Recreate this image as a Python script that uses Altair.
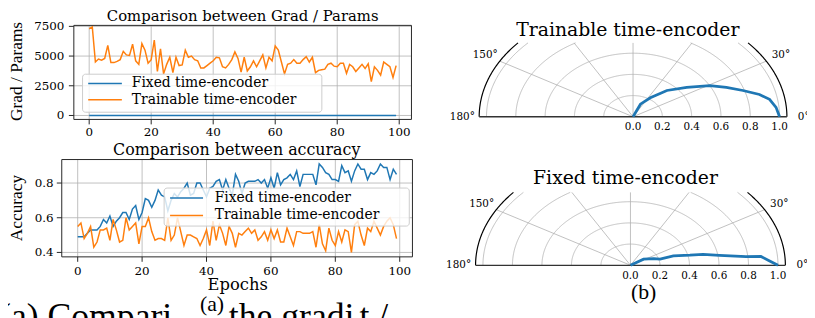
import math
import pandas as pd
import altair as alt

# ---------------- data ----------------
epochs = list(range(100))
series_names = ["Fixed time-encoder", "Trainable time-encoder"]
series_colors = ["#1f77b4", "#ff7f0e"]

grad_fixed = [0, 0, 0, 0, 0, 0, 0, 0, 0, 0, 0, 0, 0, 0, 0, 0, 0, 0, 0, 0,
              0, 0, 0, 0, 0, 0, 0, 0, 0, 0, 0, 0, 0, 0, 0, 0, 0, 0, 0, 0,
              0, 0, 0, 0, 0, 0, 0, 0, 0, 0, 0, 0, 0, 0, 0, 0, 0, 0, 0, 0,
              0, 0, 0, 0, 0, 0, 0, 0, 0, 0, 0, 0, 0, 0, 0, 0, 0, 0, 0, 0,
              0, 0, 0, 0, 0, 0, 0, 0, 0, 0, 0, 0, 0, 0, 0, 0, 0, 0, 0, 0]
grad_trainable = [7300, 7450, 4500, 4750, 4650, 4800, 5900, 4450, 4450, 4550,
                  4700, 5400, 5100, 5050, 6000, 4600, 4300, 6050, 5500, 4400,
                  4700, 6350, 3700, 5600, 3500, 4300, 4900, 3600, 4900, 4200,
                  4250, 5500, 4900, 5000, 4700, 4600, 4000, 4000, 4200, 4400,
                  4600, 4900, 4850, 4100, 4000, 4300, 4700, 5350, 4800, 3650,
                  4900, 3750, 4100, 4600, 4100, 4600, 5100, 4000, 4900, 4600,
                  5850, 5500, 4500, 3500, 4300, 4400, 4700, 4400, 4400, 4700,
                  4950, 4500, 4900, 3600, 3800, 3850, 3900, 4300, 4400, 4150,
                  4100, 4400, 4400, 3550, 4300, 4100, 3700, 4000, 4300, 3950,
                  4350, 2850, 4100, 3800, 3400, 4500, 4300, 4100, 3200, 4200]
acc_fixed = [0.49, 0.49, 0.49, 0.51, 0.53, 0.53, 0.53, 0.55, 0.59, 0.57,
             0.61, 0.55, 0.58, 0.60, 0.63, 0.63, 0.59, 0.65, 0.67, 0.59,
             0.63, 0.71, 0.70, 0.66, 0.70, 0.76, 0.73, 0.72, 0.64, 0.70,
             0.74, 0.72, 0.75, 0.77, 0.80, 0.73, 0.74, 0.80, 0.80, 0.76,
             0.72, 0.77, 0.78, 0.81, 0.82, 0.76, 0.82, 0.77, 0.73, 0.85,
             0.81, 0.74, 0.80, 0.81, 0.81, 0.81, 0.82, 0.80, 0.82, 0.77,
             0.83, 0.77, 0.86, 0.79, 0.82, 0.83, 0.85, 0.82, 0.87, 0.78,
             0.85, 0.85, 0.85, 0.85, 0.79, 0.91, 0.89, 0.86, 0.85, 0.82,
             0.82, 0.81, 0.90, 0.86, 0.87, 0.81, 0.87, 0.91, 0.88, 0.88,
             0.82, 0.86, 0.85, 0.87, 0.91, 0.89, 0.89, 0.82, 0.88, 0.85]
acc_trainable = [0.55, 0.57, 0.48, 0.51, 0.55, 0.43, 0.46, 0.53, 0.53, 0.54,
                 0.47, 0.59, 0.53, 0.46, 0.47, 0.60, 0.53, 0.55, 0.57, 0.45,
                 0.55, 0.55, 0.60, 0.52, 0.47, 0.48, 0.48, 0.47, 0.60, 0.47,
                 0.50, 0.60, 0.52, 0.44, 0.50, 0.50, 0.49, 0.48, 0.44, 0.48,
                 0.53, 0.44, 0.58, 0.47, 0.56, 0.51, 0.44, 0.55, 0.51, 0.43,
                 0.51, 0.50, 0.52, 0.54, 0.51, 0.53, 0.47, 0.49, 0.52, 0.47,
                 0.53, 0.48, 0.53, 0.46, 0.46, 0.54, 0.49, 0.44, 0.52, 0.52,
                 0.51, 0.51, 0.51, 0.52, 0.43, 0.56, 0.45, 0.41, 0.54, 0.47,
                 0.44, 0.52, 0.46, 0.53, 0.52, 0.40, 0.56, 0.58, 0.50, 0.44,
                 0.54, 0.52, 0.58, 0.54, 0.50, 0.55, 0.58, 0.60, 0.56, 0.48]

epoch_ticks = [0, 20, 40, 60, 80, 100]
grad_ticks = [0, 2500, 5000, 7500]
acc_ticks = [0.4, 0.6, 0.8]
radial_ticks = [0.0, 0.2, 0.4, 0.6, 0.8, 1.0]
radial_grid = [0.2, 0.4, 0.6, 0.8, 1.0]
theta_grid = [30, 60, 90, 120, 150]
theta_label_deg = [0, 30, 150, 180]
theta_label_txt = ["0°", "30°", "150°", "180°"]

polar_trainable_r = [0.0, 0.129, 0.215, 0.339, 0.46, 0.601, 0.695, 0.79, 0.888, 0.946, 0.98, 1.0]
polar_trainable_theta = [75, 67, 56.7, 47, 37.2, 29.3, 23.6, 18.3, 13.7, 10.0, 5.2, 0]
polar_fixed_r = [0.0, 0.106, 0.17, 0.209, 0.304, 0.414, 0.503, 0.611, 0.787, 0.888, 0.941, 1.0]
polar_fixed_theta = [33, 33, 22, 16, 17, 13.3, 11.9, 8.9, 6.0, 5.4, 2.6, 0]

# ---------------- layout helpers ----------------
SERIF = "DejaVu Serif"
TIMES = "Liberation Serif"
GRID = "#b0b0b0"
SPINE = "#262626"
OFF = 8
W, H = 807, 310


def P(v):
    return v - OFF


def sc(dom, rng):
    return alt.Scale(domain=list(dom), range=[float(r) for r in rng], nice=False, zero=False)


def qx(field, s):
    return alt.X(field, type="quantitative", scale=s, axis=None)


def qy(field, s):
    return alt.Y(field, type="quantitative", scale=s, axis=None)


def one(**kw):
    return pd.DataFrame({k: [v] for k, v in kw.items()})


layers = []


def text(t, x, y, size, font=SERIF, align="center", baseline="alphabetic", angle=0):
    layers.append(
        alt.Chart(one(t=t)).mark_text(font=font, fontSize=size, align=align, baseline=baseline,
                                      angle=angle, color="black")
        .encode(x=alt.value(x), y=alt.value(y), text="t:N"))


def legend(box, rows_y, line_x, label_x):
    x0, x1, y0, y1 = box
    layers.append(
        alt.Chart(one(a=0)).mark_rect(fill="white", fillOpacity=0.8, stroke="#cccccc",
                                      strokeWidth=1, cornerRadius=3)
        .encode(x=alt.value(P(x0)), x2=alt.value(P(x1)), y=alt.value(P(y0)), y2=alt.value(P(y1))))
    for name, color, ry in zip(series_names, series_colors, rows_y):
        layers.append(
            alt.Chart(one(a=0)).mark_rule(color=color, strokeWidth=1.5)
            .encode(x=alt.value(P(line_x[0])), x2=alt.value(P(line_x[1])), y=alt.value(P(ry))))
        text(name, P(label_x), P(ry), 14, align="left", baseline="middle")


def cartesian(xs, ys, xd, yd, yticks, ylabels, series_vals, frame_left, frame_bottom,
              xlab_y, ylab_right):
    gx = pd.DataFrame({"v": epoch_ticks, "lo": yd[0], "hi": yd[1]})
    layers.append(alt.Chart(gx).mark_rule(color=GRID, strokeWidth=0.8)
                  .encode(x=qx("v", xs), y=qy("lo", ys), y2="hi"))
    gy = pd.DataFrame({"v": yticks, "lo": xd[0], "hi": xd[1]})
    layers.append(alt.Chart(gy).mark_rule(color=GRID, strokeWidth=0.8)
                  .encode(y=qy("v", ys), x=qx("lo", xs), x2="hi"))
    for color, vals in zip(series_colors, series_vals):
        df = pd.DataFrame({"epoch": epochs, "val": vals})
        layers.append(alt.Chart(df).mark_line(color=color, strokeWidth=1.5)
                      .encode(x=qx("epoch", xs), y=qy("val", ys)))
    fr = pd.DataFrame({"x0": [xd[0]], "x1": [xd[1]], "y0": [yd[0]], "y1": [yd[1]]})
    layers.append(alt.Chart(fr).mark_rect(fillOpacity=0, stroke=SPINE, strokeWidth=1)
                  .encode(x=qx("x0", xs), x2="x1", y=qy("y0", ys), y2="y1"))
    tx = pd.DataFrame({"v": epoch_ticks, "lab": [str(t) for t in epoch_ticks]})
    layers.append(alt.Chart(tx).mark_rule(color=SPINE, strokeWidth=1)
                  .encode(x=qx("v", xs), y=alt.value(P(frame_bottom)), y2=alt.value(P(frame_bottom) + 5)))
    layers.append(alt.Chart(tx).mark_text(font=SERIF, fontSize=12, baseline="middle", color="black")
                  .encode(x=qx("v", xs), y=alt.value(P(xlab_y)), text="lab:N"))
    ty = pd.DataFrame({"v": yticks, "lab": ylabels})
    layers.append(alt.Chart(ty).mark_rule(color=SPINE, strokeWidth=1)
                  .encode(y=qy("v", ys), x=alt.value(P(frame_left) - 5), x2=alt.value(P(frame_left))))
    layers.append(alt.Chart(ty).mark_text(font=SERIF, fontSize=12, baseline="middle", align="right",
                                          color="black")
                  .encode(y=qy("v", ys), x=alt.value(P(ylab_right)), text="lab:N"))


def arc_df(radii, vmax):
    rows = []
    for r in radii:
        if r <= vmax:
            segs = [(0.0, 180.0)]
        else:
            tc = math.degrees(math.asin(vmax / r))
            segs = [(0.0, tc), (180.0 - tc, 180.0)]
        for si, (a, b) in enumerate(segs):
            n = max(2, int((b - a) / 0.5) + 1)
            for k in range(n):
                t = math.radians(a + (b - a) * k / (n - 1))
                rows.append({"g": f"{r}-{si}", "o": k, "x": r * math.cos(t), "y": r * math.sin(t)})
    return pd.DataFrame(rows)


def polar(xs, ys, vmax, r_list, th_list, oy):
    rmax = 1.05
    layers.append(alt.Chart(arc_df(radial_grid, vmax)).mark_line(color=GRID, strokeWidth=0.8)
                  .encode(x=qx("x", xs), y=qy("y", ys), detail="g:N", order="o:Q"))
    sp = []
    for th in theta_grid:
        re = min(rmax, vmax / math.sin(math.radians(th)))
        sp.append({"x0": 0.0, "y0": 0.0, "x1": re * math.cos(math.radians(th)),
                   "y1": re * math.sin(math.radians(th))})
    layers.append(alt.Chart(pd.DataFrame(sp)).mark_rule(color=GRID, strokeWidth=0.8)
                  .encode(x=qx("x0", xs), y=qy("y0", ys), x2="x1", y2="y1"))
    layers.append(alt.Chart(arc_df([rmax], vmax)).mark_line(color="black", strokeWidth=1.2)
                  .encode(x=qx("x", xs), y=qy("y", ys), detail="g:N", order="o:Q"))
    base = pd.DataFrame({"x0": [-rmax], "x1": [rmax], "y0": [0.0]})
    layers.append(alt.Chart(base).mark_rule(color="#333333", strokeWidth=1.3)
                  .encode(x=qx("x0", xs), x2="x1", y=qy("y0", ys)))
    cdf = pd.DataFrame({"r": r_list, "th": th_list, "i": list(range(len(r_list)))})
    layers.append(alt.Chart(cdf).transform_calculate(
        cx="datum.r * cos(datum.th * PI / 180)", cy="datum.r * sin(datum.th * PI / 180)")
        .mark_line(color=series_colors[0], strokeWidth=2.8)
        .encode(x=qx("cx:Q", xs), y=qy("cy:Q", ys), order="i:Q"))
    rl = pd.DataFrame({"v": radial_ticks, "lab": [f"{v:.1f}" for v in radial_ticks]})
    layers.append(alt.Chart(rl).mark_text(font=SERIF, fontSize=10.5, baseline="middle", color="black")
                  .encode(x=qx("v", xs), y=alt.value(P(oy) + 10.4), text="lab:N"))
    tl = pd.DataFrame({"th": theta_label_deg, "lab": theta_label_txt})
    layers.append(alt.Chart(tl).transform_calculate(
        lx="1.165 * cos(datum.th * PI / 180)", ly="1.165 * sin(datum.th * PI / 180)")
        .mark_text(font=SERIF, fontSize=10.5, baseline="middle", color="black")
        .encode(x=qx("lx:Q", xs), y=qy("ly:Q", ys), text="lab:N"))


# ---------------- panel (a) top: Grad / Params ----------------
AXD = [-4.95, 103.95]
AYD = [-333, 7583]
AX = sc(AXD, [P(74.5), P(415.5)])
AY = sc(AYD, [P(119), P(24)])
cartesian(AX, AY, AXD, AYD, grad_ticks, [str(t) for t in grad_ticks],
          [grad_fixed, grad_trainable], 74.5, 119, 131.5, 65)
legend((83.3, 325, 73.3, 111.7), (82.7, 99.0), (89, 123), 133)
text("Comparison between Grad / Params", P(245), P(19.6), 15)
text("Grad / Params", P(17.5), P(70.5), 17.5, font=TIMES, baseline="middle", angle=270)

# ---------------- panel (a) bottom: Accuracy ----------------
BXD = [-4.95, 103.95]
BYD = [0.3745, 0.9355]
BX = sc(BXD, [P(62.3), P(416.5)])
BY = sc(BYD, [P(257.8), P(159.5)])
cartesian(BX, BY, BXD, BYD, acc_ticks, [f"{t:.1f}" for t in acc_ticks],
          [acc_fixed, acc_trainable], 62.3, 257.8, 271.7, 54)
legend((165.7, 413.3, 188.3, 226.7), (198.3, 216.0), (171.7, 205), 216.7)
text("Comparison between accuracy", P(239), P(154.5), 16)
text("Accuracy", P(17.5), P(208.5), 17.5, font=TIMES, baseline="middle", angle=270)
text("Epochs", P(240), P(291), 16.5)

# ---------------- panel (b): polar plots ----------------
TOX, TOY, THS, VS = 639.3, 116.3, 148.0, 107.0
TX = sc([-1.2, 1.2], [P(TOX - 1.2 * THS), P(TOX + 1.2 * THS)])
TY = sc([0, 1.2], [P(TOY), P(TOY - 1.2 * VS)])
polar(TX, TY, (TOY - 41.7) / VS, polar_trainable_r, polar_trainable_theta, TOY)
text("Trainable time-encoder", P(634), P(34.5), 19)

FOX, FOY, FHS = 636.7, 266.3, 149.0
FX = sc([-1.2, 1.2], [P(FOX - 1.2 * FHS), P(FOX + 1.2 * FHS)])
FY = sc([0, 1.2], [P(FOY), P(FOY - 1.2 * VS)])
polar(FX, FY, (FOY - 192.7) / VS, polar_fixed_r, polar_fixed_theta, FOY)
text("Fixed time-encoder", P(631.7), P(184.5), 19)

# ---------------- sub-captions ----------------
text("(a)", P(214), P(312), 22, font=TIMES)
text("(b)", P(650), P(300.5), 22, font=TIMES)
text("(a) Compari", P(-1), P(330), 36, font=TIMES, align="left")
text("the gradi", P(231), P(330), 36, font=TIMES, align="left")
text("t /", P(363), P(330), 36, font=TIMES, align="left")

chart = (
    alt.layer(*layers)
    .resolve_scale(x="independent", y="independent")
    .properties(width=W, height=H, autosize=alt.AutoSizeParams(type="none"), padding=0)
    .configure_view(stroke="transparent")
)
chart.save("out.html", embed_options={"renderer": "svg", "actions": False})
